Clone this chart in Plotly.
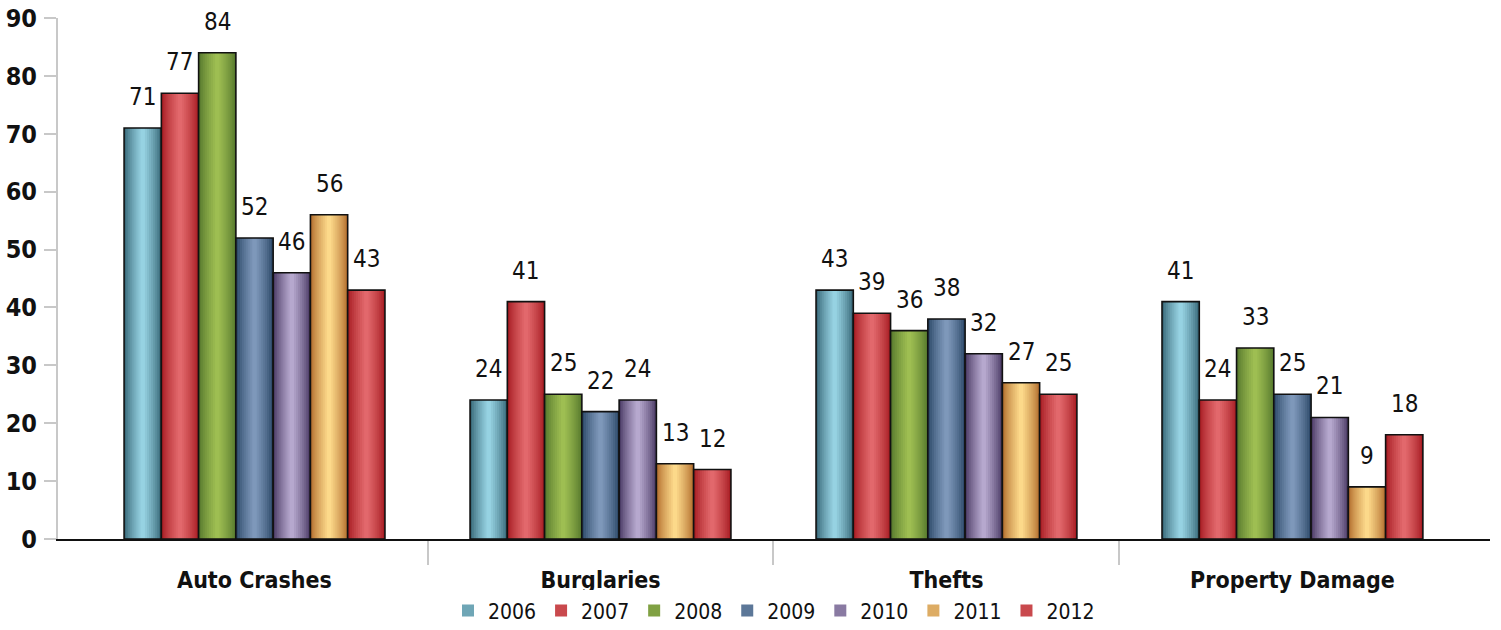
import plotly.graph_objects as go

categories = ["Auto Crashes", "Burglaries", "Thefts", "Property Damage"]
years = ["2006", "2007", "2008", "2009", "2010", "2011", "2012"]
values = {
    "2006": [71, 24, 43, 41],
    "2007": [77, 41, 39, 24],
    "2008": [84, 25, 36, 33],
    "2009": [52, 22, 38, 25],
    "2010": [46, 24, 32, 21],
    "2011": [56, 13, 27, 9],
    "2012": [43, 12, 25, 18],
}
# (edge colour, centre colour) for the cylinder-like gradient
palette = {
    "2006": ("#3a6a7a", "#96d2e2"),
    "2007": ("#a81e24", "#e2686c"),
    "2008": ("#587a2e", "#9ebe52"),
    "2009": ("#2e4a6a", "#7e98ba"),
    "2010": ("#4c3c66", "#b6a8ce"),
    "2011": ("#b47030", "#fcd98a"),
    "2012": ("#a81e24", "#e2686c"),
}

FONT = "DejaVu Sans Condensed, DejaVu Sans, sans-serif"
group_frac = 0.754
n = len(years)
w = group_frac / n
layers = 9


def hex2rgb(h):
    h = h.lstrip("#")
    return tuple(int(h[i:i + 2], 16) for i in (0, 2, 4))


def mix(a, b, t):
    ra, rb = hex2rgb(a), hex2rgb(b)
    return "rgb(%d,%d,%d)" % tuple(round(x + (y - x) * t) for x, y in zip(ra, rb))


fig = go.Figure()
annotations = []
for j, yr in enumerate(years):
    xs = [i + (j - (n - 1) / 2) * w for i in range(len(categories))]
    dark, light = palette[yr]
    for k in range(layers):
        t = k / (layers - 1)
        frac = 1 - t * 0.88
        fig.add_trace(go.Bar(
            x=xs, y=values[yr], width=w * frac,
            marker=dict(color=mix(dark, light, t ** 0.8), line=dict(width=0)),
            name=yr, legendgroup=yr,
            showlegend=(k == layers // 2),
            hoverinfo="skip",
        ))
    fig.add_trace(go.Bar(
        x=xs, y=values[yr], width=w,
        marker=dict(color="rgba(0,0,0,0)", line=dict(color="#111111", width=1.6)),
        name=yr, legendgroup=yr, showlegend=False,
    ))
    for x, v in zip(xs, values[yr]):
        annotations.append(dict(
            x=x, y=v, xref="x", yref="y", text=str(v), showarrow=False,
            yanchor="bottom", xanchor="center", yshift=15,
            font=dict(family=FONT, size=24, color="#111111"),
        ))

fig.update_layout(
    width=1501, height=630,
    margin=dict(l=58, r=11, t=18, b=91, autoexpand=False),
    paper_bgcolor="white", plot_bgcolor="white",
    barmode="overlay",
    font=dict(family=FONT, color="#111111"),
    annotations=annotations,
    xaxis=dict(
        range=[-0.568, 3.571], automargin=False,
        tickmode="array", tickvals=list(range(len(categories))), ticktext=categories,
        ticks="", showgrid=False, zeroline=False,
        showline=True, linecolor="#111111", linewidth=2,
        tickfont=dict(family=FONT, size=23, color="#111111", weight="bold"),
        ticklabelstandoff=19,
        minor=dict(tickmode="array", tickvals=[0.5, 1.5, 2.5], ticks="outside",
                   ticklen=24, tickcolor="#c8c8c8", tickwidth=2, showgrid=False),
    ),
    yaxis=dict(
        range=[0, 90], dtick=10, showgrid=False, zeroline=False, automargin=False,
        showline=True, linecolor="#c8c8c8", linewidth=2,
        ticks="outside", ticklen=12, tickcolor="#c8c8c8", tickwidth=2,
        tickfont=dict(family=FONT, size=25, color="#111111", weight="bold"),
        ticklabelstandoff=2,
    ),
    legend=dict(
        orientation="h", x=0.5, xanchor="center", y=-0.138, yanchor="middle",
        font=dict(family=FONT, size=21, color="#111111"),
        traceorder="normal", itemclick=False,
    ),
    showlegend=True,
)

fig.write_html("out.html")
